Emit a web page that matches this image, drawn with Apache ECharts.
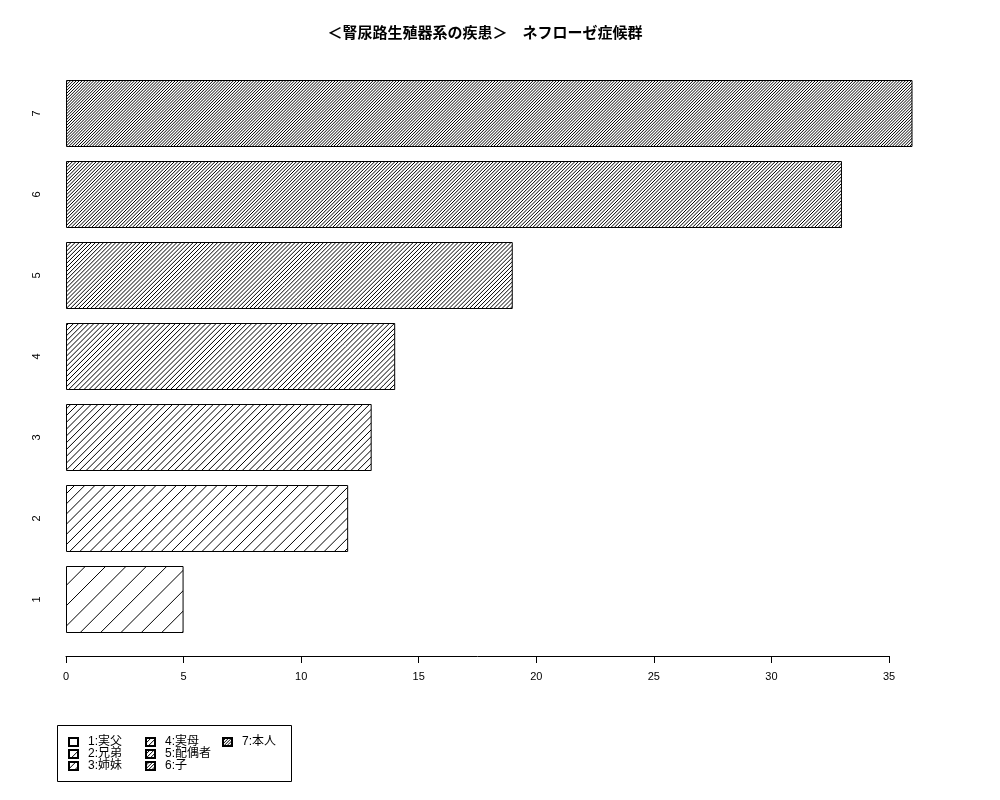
<!DOCTYPE html>
<html>
<head>
<meta charset="utf-8">
<script src="https://cdn.jsdelivr.net/npm/echarts@6/dist/echarts.min.js"></script>
<style>html,body{margin:0;padding:0;background:#fff}#c{width:1000px;height:800px}</style>
</head>
<body>
<div id="c"></div>
<script>
// ---- data ----
const titleText = '＜腎尿路生殖器系の疾患＞　ネフローゼ症候群';
const categories = ['1', '2', '3', '4', '5', '6', '7'];
const values = [5, 12, 13, 14, 19, 33, 36];
const legendNames = ['1:実父', '2:兄弟', '3:姉妹', '4:実母', '5:配偶者', '6:子', '7:本人'];
const densities = [5, 10, 15, 20, 25, 30, 35];
const xTicks = [0, 5, 10, 15, 20, 25, 30, 35];

const FONT = "'Liberation Sans', 'Noto Sans CJK JP', sans-serif";

// 45-degree hatch pattern (like R's density/angle shading)
function hatch(density) {
  const W = 1000, H = 800;
  const cv = document.createElement('canvas');
  cv.width = W; cv.height = H;
  const ctx = cv.getContext('2d');
  ctx.fillStyle = '#fff';
  ctx.fillRect(0, 0, W, H);
  ctx.strokeStyle = '#000';
  ctx.lineWidth = 1;
  const s = 72 * Math.SQRT2 / density; // horizontal spacing in px
  ctx.beginPath();
  for (let c = 0; c < W + H + s; c += s) {
    ctx.moveTo(c, 0);
    ctx.lineTo(c - H, H);
  }
  ctx.stroke();
  return cv;
}

const series = categories.map((cat, i) => ({
  name: legendNames[i],
  type: 'bar',
  xAxisIndex: 0,
  yAxisIndex: 0,
  barWidth: 67,
  barGap: '-100%',
  silent: true,
  itemStyle: {
    color: { image: hatch(densities[i]), repeat: 'repeat' },
    borderColor: '#000',
    borderWidth: 1
  },
  data: categories.map((c, j) => (j === i ? values[i] : '-'))
}));

const legendCommon = {
  orient: 'vertical',
  icon: 'rect',
  itemWidth: 9,
  itemHeight: 8,
  itemGap: 0,
  padding: 0,
  top: 736,
  selectedMode: false,
  textStyle: { fontFamily: FONT, fontSize: 12, color: '#000', lineHeight: 12, padding: [0, 0, 0, 5] }
};

const chart = echarts.init(document.getElementById('c'), null, { renderer: 'canvas' });
chart.setOption({
  animation: false,
  backgroundColor: '#fff',
  title: {
    text: titleText,
    left: 480,
    textAlign: 'center',
    top: 21,
    textStyle: { fontFamily: FONT, fontSize: 15, fontWeight: 'bold', color: '#000' }
  },
  legend: [
    Object.assign({}, legendCommon, { left: 68, data: legendNames.slice(0, 3) }),
    Object.assign({}, legendCommon, { left: 145, data: legendNames.slice(3, 6) }),
    Object.assign({}, legendCommon, { left: 222, data: legendNames.slice(6, 7) })
  ],
  graphic: [{
    type: 'rect',
    shape: { x: 57.5, y: 725.5, width: 234, height: 56 },
    style: { fill: 'none', stroke: '#000', lineWidth: 1 }
  }],
  grid: [
    { left: 66, top: 73, width: 846.5, height: 567 },
    { left: 66, top: 655, width: 823, height: 1 }
  ],
  xAxis: [
    { gridIndex: 0, type: 'value', min: 0, max: 36, show: false },
    {
      gridIndex: 1, type: 'value', min: xTicks[0], max: xTicks[xTicks.length - 1], interval: 5,
      axisLine: { show: true, lineStyle: { color: '#000', width: 1 } },
      axisTick: { show: true, length: 7, lineStyle: { color: '#000' } },
      splitLine: { show: false },
      axisLabel: { fontFamily: FONT, fontSize: 11, color: '#000', margin: 15 }
    }
  ],
  yAxis: [
    {
      gridIndex: 0, type: 'category', data: categories,
      axisLine: { show: false }, axisTick: { show: false },
      axisLabel: { rotate: 90, fontFamily: FONT, fontSize: 11, color: '#000', margin: 24 }
    },
    { gridIndex: 1, type: 'value', show: false }
  ],
  series: series
});
</script>
</body>
</html>
